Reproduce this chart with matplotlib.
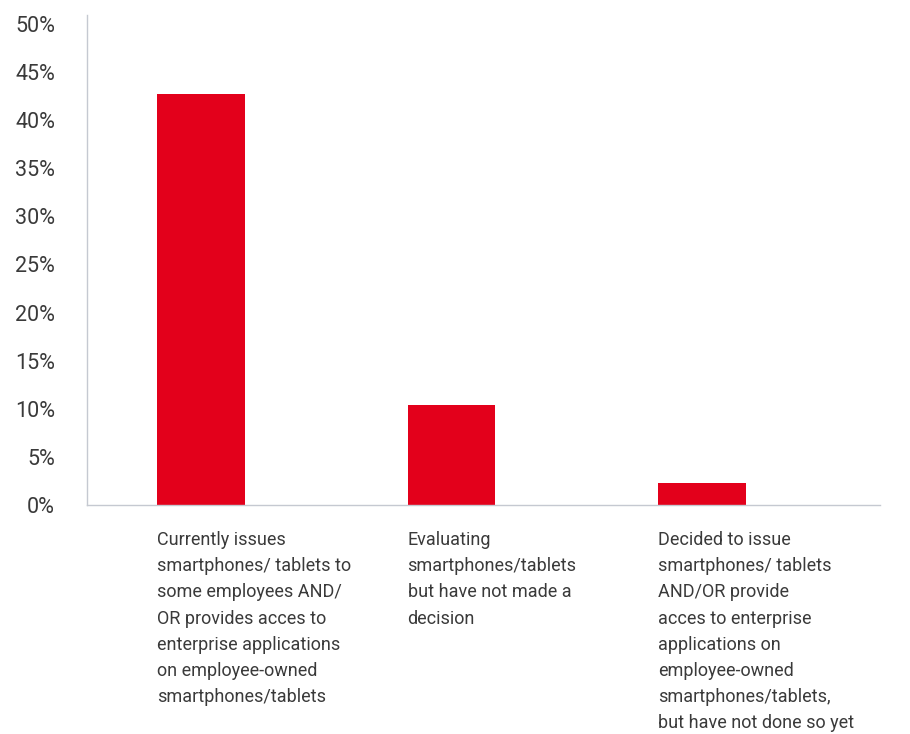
import matplotlib
matplotlib.use("Agg")
import matplotlib.pyplot as plt
from matplotlib.ticker import FuncFormatter

categories = [
    "Currently issues\nsmartphones/ tablets to\nsome employees AND/\nOR provides acces to\nenterprise applications\non employee-owned\nsmartphones/tablets",
    "Evaluating\nsmartphones/tablets\nbut have not made a\ndecision",
    "Decided to issue\nsmartphones/ tablets\nAND/OR provide\nacces to enterprise\napplications on\nemployee-owned\nsmartphones/tablets,\nbut have not done so yet",
]
values = [42.7, 10.4, 2.3]
yticks = [0, 5, 10, 15, 20, 25, 30, 35, 40, 45, 50]

plt.rcParams['font.family'] = ['Roboto', 'DejaVu Sans']
W, H = 910, 734
fig = plt.figure(figsize=(W/100, H/100), dpi=100)
ax_left, ax_right, ax_top, ax_bot = 87, 880, 15, 505
ax = fig.add_axes([ax_left/W, 1-ax_bot/H, (ax_right-ax_left)/W, (ax_bot-ax_top)/H])

red = "#e3001b"
txt = "#3a3a3a"
spine = "#c5c9d1"
bw = 0.35
x = list(range(len(values)))
ax.bar(x, values, width=bw, color=red, zorder=2)
ax.set_xlim(-0.454, 2.71)
ax.set_ylim(0, 50.93)
ax.set_yticks(yticks)
ax.yaxis.set_major_formatter(FuncFormatter(lambda v, p: f"{int(v)}%"))
ax.tick_params(axis='y', length=0, pad=23, labelsize=15.5, labelcolor=txt)
ax.tick_params(axis='x', length=0, labelbottom=False)
for s in ['top', 'right']:
    ax.spines[s].set_visible(False)
for s in ['left', 'bottom']:
    ax.spines[s].set_color(spine)
    ax.spines[s].set_linewidth(1.0)

for xi, lab in zip(x, categories):
    ax.annotate(lab, xy=(xi - bw/2, 0), xycoords='data', xytext=(0, -19),
                textcoords='offset points', ha='left', va='top',
                fontsize=13, color=txt, linespacing=1.575)

fig.savefig("out.png", dpi=100)
